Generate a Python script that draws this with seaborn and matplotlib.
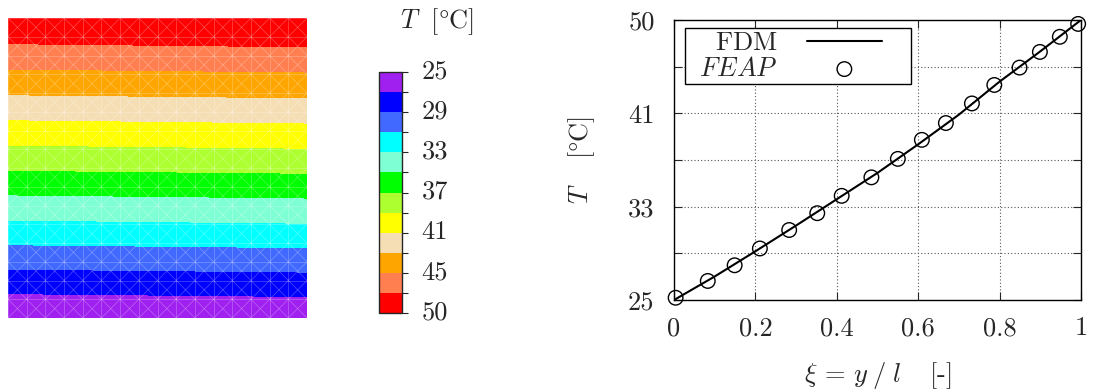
import numpy as np
import pandas as pd
import matplotlib
matplotlib.use("Agg")
import matplotlib.pyplot as plt
from matplotlib.colors import ListedColormap, BoundaryNorm
from matplotlib.collections import LineCollection
import matplotlib.transforms as mtransforms
import seaborn as sns

# --- data -------------------------------------------------------------
# FDM temperature profile along the height
fdm_xi = [0.0, 0.1, 0.2, 0.3, 0.4, 0.5, 0.6, 0.7, 0.8, 0.9, 1.0]
fdm_T = [25.0, 27.1, 29.35, 31.65, 34.0, 36.35, 38.9, 41.55, 44.5, 47.2, 50.0]

# FEAP nodal results
feap_xi = [0.004, 0.083, 0.149, 0.211, 0.283, 0.352, 0.412, 0.485, 0.550,
           0.609, 0.668, 0.732, 0.787, 0.849, 0.899, 0.948, 0.993]
feap_T = [25.2, 26.7, 28.1, 29.6, 31.25, 32.75, 34.3, 35.95, 37.6,
          39.3, 40.8, 42.55, 44.2, 45.75, 47.15, 48.5, 49.65]

# FEAP nodal temperatures on the left and right edges of the 16x16 mesh
edge_left_T = [25.0, 26.61, 28.20, 29.80, 31.40, 32.99, 34.53, 36.10, 37.70,
               39.25, 40.78, 42.33, 43.90, 45.41, 46.94, 48.49, 50.0]
edge_right_T = [25.0, 26.85, 28.45, 30.05, 31.65, 33.25, 34.80, 36.35, 37.95,
                39.50, 41.05, 42.60, 44.15, 45.65, 47.20, 48.75, 50.0]

band_colors = ["#a020f0", "#0000ff", "#4169ff", "#00ffff", "#7fffd4", "#00ff00",
               "#adff2f", "#ffff00", "#f5deb3", "#ffa500", "#ff7f50", "#ff0000"]
cbar_labels = ["25", "29", "33", "37", "41", "45", "50"]
y_tick_labels = ["25", "", "33", "", "41", "", "50"]
x_tick_labels = ["0", "0.2", "0.4", "0.6", "0.8", "1"]

# --- style ------------------------------------------------------------
sns.set_style("white")
plt.rcParams["font.family"] = ["cmr10", "DejaVu Serif"]
plt.rcParams["mathtext.fontset"] = "cm"
plt.rcParams["axes.formatter.use_mathtext"] = True
plt.rcParams["axes.unicode_minus"] = False

FS = 19
W, H = 1107, 392
fig = plt.figure(figsize=(W / 100, H / 100), dpi=100)


def px_axes(x0, y0, x1, y1):
    return fig.add_axes([x0 / W, 1 - y1 / H, (x1 - x0) / W, (y1 - y0) / H])


# --- contour plot of the plate ---------------------------------------
ax_c = px_axes(8, 18, 307, 318)
n = len(edge_left_T)
s = np.linspace(0, 1, n)
fine = np.linspace(0, 1, 301)
Xf, Yf = np.meshgrid(fine, fine)
left_f = np.interp(fine, s, edge_left_T)[:, None]
right_f = np.interp(fine, s, edge_right_T)[:, None]
Z = left_f + (right_f - left_f) * Xf
levels = np.linspace(25, 50, 13)
cmap = ListedColormap(band_colors)
norm = BoundaryNorm(levels, cmap.N)
cf = ax_c.contourf(Xf, Yf, Z, levels=levels, cmap=cmap, norm=norm)

# finite element mesh: quads with both diagonals
segs = []
for v in s:
    segs.append([(v, 0), (v, 1)])
    segs.append([(0, v), (1, v)])
for i in range(n - 1):
    for j in range(n - 1):
        segs.append([(s[i], s[j]), (s[i + 1], s[j + 1])])
        segs.append([(s[i + 1], s[j]), (s[i], s[j + 1])])
ax_c.add_collection(LineCollection(segs, colors="white", linewidths=0.5, alpha=0.3))
ax_c.set_xlim(0, 1)
ax_c.set_ylim(0, 1)
ax_c.axis("off")

# --- colour legend ----------------------------------------------------
cax = px_axes(379, 72, 402, 313)
cb = fig.colorbar(cf, cax=cax, ticks=levels[::2], drawedges=True)
cb.outline.set_linewidth(1.0)
cb.dividers.set_linewidth(1.0)
cax.invert_yaxis()
cax.set_yticks(levels, minor=True)
cax.set_yticklabels(cbar_labels)
cax.tick_params(axis="y", which="both", direction="out", length=4, width=0.8,
                labelsize=FS, pad=10, right=True, left=False)
shift = mtransforms.ScaledTranslation(0, 3 / 100, fig.dpi_scale_trans)
for lab in cax.get_yticklabels():
    lab.set_transform(lab.get_transform() + shift)
fig.text(437 / W, 1 - 22 / H, r"$T\ \ [\degree\mathrm{C}]$", ha="center", va="center",
         fontsize=FS)

# --- temperature profile ----------------------------------------------
ax = px_axes(674, 20, 1081, 300)
df_fdm = pd.DataFrame({"xi": fdm_xi, "T": fdm_T})
df_feap = pd.DataFrame({"xi": feap_xi, "T": feap_T})
sns.lineplot(data=df_fdm, x="xi", y="T", ax=ax, color="black", lw=1.5,
             label=r"$\mathrm{FDM}$", zorder=3)
sns.scatterplot(data=df_feap, x="xi", y="T", ax=ax, marker="o", s=110,
                facecolor="none", edgecolor="black", linewidth=1.0,
                label=r"$\enspace FEAP$", zorder=4, clip_on=False)
ax.set_xlim(0, 1)
ax.set_ylim(25, 50)
ax.set_xticks(np.linspace(0, 1, 6))
ax.set_xticklabels(x_tick_labels)
ax.set_yticks(np.linspace(25, 50, 7))
ax.set_yticklabels(y_tick_labels)
ax.grid(True, linestyle=(0, (1, 2)), color="#555555", linewidth=0.8)
ax.tick_params(axis="both", direction="in", length=6, width=0.8, labelsize=FS,
               top=True, right=True, bottom=True, left=True)
ax.tick_params(axis="y", pad=14)
ax.tick_params(axis="x", pad=12)
for sp in ax.spines.values():
    sp.set_color("black")
    sp.set_linewidth(1.0)
ax.set_xlabel(r"$\xi\, =\, y\;/\;l\quad\;$[-]", fontsize=FS, labelpad=14)
ax.set_ylabel(r"$T\quad\;[\degree\mathrm{C}]$", fontsize=FS, labelpad=22)

leg_w = 226 / 407
leg_h = 59 / 280
leg = ax.legend(loc="upper left", mode="expand",
                bbox_to_anchor=(11 / 407, 1 - 8 / 280 - leg_h, leg_w, leg_h),
                fontsize=FS, frameon=True, fancybox=False, edgecolor="black",
                framealpha=1, markerfirst=False, handlelength=2.85,
                borderpad=0.12, labelspacing=0.08, handletextpad=1.1,
                borderaxespad=0)
leg.get_frame().set_linewidth(1.0)
for t in leg.get_texts():
    t.set_ha("right")

fig.savefig("out.png", dpi=100)
